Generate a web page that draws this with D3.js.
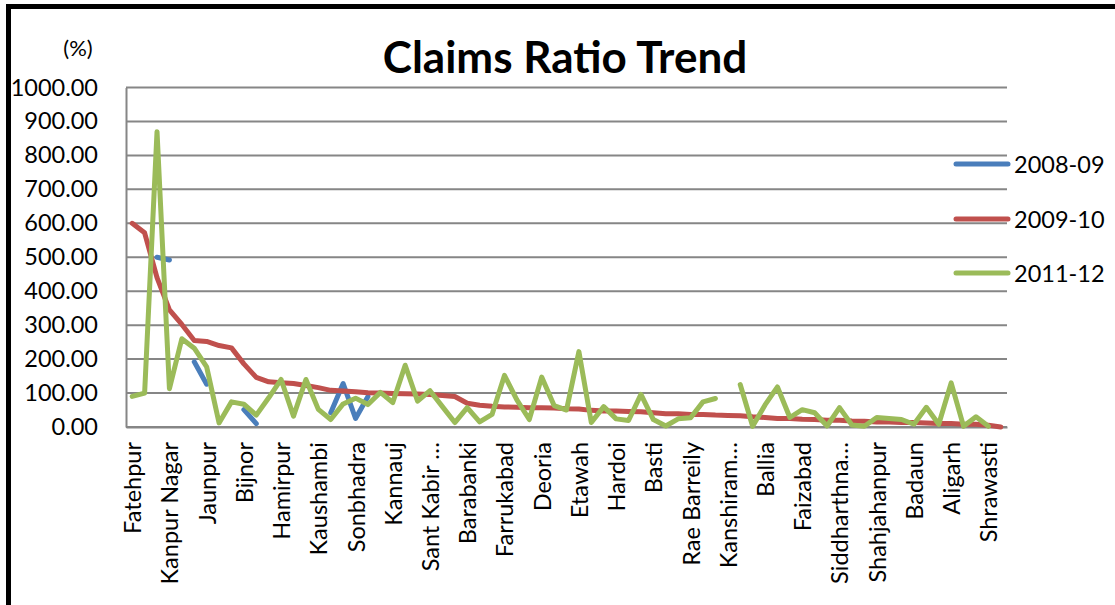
<!DOCTYPE html>
<html>
<head>
<meta charset="utf-8">
<script src="https://cdn.jsdelivr.net/npm/d3@7"></script>
<style>
  html, body { margin: 0; padding: 0; background: #fff; }
  svg { display: block; }
  text { font-family: Lato, "Open Sans", sans-serif; fill: #000; }
</style>
</head>
<body>
<svg id="chart" width="1115" height="605"></svg>
<script>
// ---- data ----
const categoryCount = 71;
// tick labels shown under every third category (as displayed in the chart)
const tickLabels = ["Fatehpur", "Kanpur Nagar", "Jaunpur", "Bijnor", "Hamirpur", "Kaushambi",
  "Sonbhadra", "Kannauj", "Sant Kabir …", "Barabanki", "Farrukabad", "Deoria", "Etawah",
  "Hardoi", "Basti", "Rae Barreily", "Kanshiram…", "Ballia", "Faizabad", "Siddharthna…",
  "Shahjahanpur", "Badaun", "Aligarh", "Shrawasti"];
// categories: district names (only every third one is legible in the chart)
const categories = d3.range(categoryCount).map(i => (i % 3 === 0 ? tickLabels[i / 3] : ""));

const seriesNames = ["2008-09", "2009-10", "2011-12"];
const seriesColors = ["#4A7EBB", "#C0504D", "#9BBB59"];

const values2008 = [null, null, 500, 492, null, 192, 126, null, null, 51,
  10, null, null, null, null, null, 42, 128, 25, 90,
  null, null, null, null, null, null, null, null, null, null,
  null, null, null, null, null, null, null, null, null, null,
  null, null, null, null, null, null, null, null, null, null,
  null, null, null, null, null, null, null, null, null, null,
  null, null, null, null, null, null, null, null, null, null,
  null];
const values2009 = [600, 572, 440, 345, 302, 255, 252, 240, 233, 186,
  146, 133, 130, 128, 122, 116, 108, 106, 104, 101,
  100, 99, 98, 97, 96, 93, 90, 70, 64, 61,
  59, 58, 57, 57, 56, 54, 53, 49, 47, 47,
  46, 45, 42, 39, 39, 37, 37, 35, 34, 33,
  30, 28, 25, 25, 23, 22, 20, 20, 18, 17,
  15, 15, 13, 13, 12, 10, 10, 8, 8, 5,
  0];
const values2011 = [90, 100, 870, 113, 260, 232, 177, 12, 74, 67,
  35, 86, 140, 32, 140, 52, 22, 68, 85, 66,
  102, 72, 182, 76, 107, 60, 13, 57, 15, 37,
  152, 80, 22, 147, 63, 50, 222, 13, 60, 24,
  19, 96, 22, 3, 24, 27, 74, 84, null, 125,
  2, 65, 118, 28, 51, 42, 3, 57, 6, 2,
  28, 25, 22, 8, 58, 8, 130, 2, 30, 2,
  null];
const yTicks = [0, 100, 200, 300, 400, 500, 600, 700, 800, 900, 1000];

const allSeries = [values2008, values2009, values2011];

// ---- layout ----
const svg = d3.select("#chart");
const W = 1115, H = 605;
const plot = { left: 126, right: 1007, top: 87.5, bottom: 427 };
const fontSize = 23.5;

svg.append("rect").attr("width", W).attr("height", H).attr("fill", "#fff");

// frame
svg.append("path")
  .attr("d", `M8.5,${H} L8.5,6.5 L${W},6.5`)
  .attr("fill", "none").attr("stroke", "#000").attr("stroke-width", 5)
  .attr("stroke-linejoin", "miter");

const x = d3.scaleBand().domain(d3.range(categoryCount)).range([plot.left, plot.right]).padding(0);
const cx = i => x(i) + x.bandwidth() / 2;
const y = d3.scaleLinear().domain([0, 1000]).range([plot.bottom, plot.top]);

// gridlines
svg.append("g")
  .selectAll("line").data(yTicks).join("line")
  .attr("x1", plot.left).attr("x2", plot.right)
  .attr("y1", d => y(d)).attr("y2", d => y(d))
  .attr("stroke", "#868686").attr("stroke-width", 2);

// y axis
const yAxis = svg.append("g").attr("transform", `translate(${plot.left},0)`)
  .call(d3.axisLeft(y).tickValues(yTicks).tickFormat(d3.format(".2f")).tickSize(0).tickPadding(28));
yAxis.select(".domain").attr("stroke", "#868686").attr("stroke-width", 2);
yAxis.selectAll("text").style("font-size", fontSize + "px").style("font-family", "Lato").attr("fill", "#000");

// x axis
const xAxis = svg.append("g").attr("transform", `translate(0,${plot.bottom})`)
  .call(d3.axisBottom(x).tickValues(d3.range(0, categoryCount, 3)).tickFormat(i => categories[i]).tickSize(0));
xAxis.select(".domain").attr("stroke", "#868686").attr("stroke-width", 2);
xAxis.selectAll("text")
  .style("font-size", fontSize + "px").style("font-family", "Lato").attr("fill", "#000")
  .attr("text-anchor", "end")
  .attr("dy", null)
  .attr("dominant-baseline", "central")
  .attr("transform", "translate(0,15) rotate(-90)")
  .attr("x", 0).attr("y", 0);

// lines
const line = d3.line()
  .defined(d => d.v != null)
  .x(d => cx(d.i))
  .y(d => y(d.v));

allSeries.forEach((vals, k) => {
  svg.append("path")
    .datum(vals.map((v, i) => ({ i, v })))
    .attr("d", line)
    .attr("fill", "none")
    .attr("stroke", seriesColors[k])
    .attr("stroke-width", 5)
    .attr("stroke-linejoin", "round")
    .attr("stroke-linecap", "round");
});

// title and unit
svg.append("text").attr("x", 565).attr("y", 73).attr("text-anchor", "middle")
  .style("font-size", "44px").style("font-weight", "bold").text("Claims Ratio Trend");
svg.append("text").attr("x", 78).attr("y", 47).attr("text-anchor", "middle")
  .attr("dominant-baseline", "central")
  .style("font-size", "22px").text("(%)");

// legend
const legendY = [164, 219, 273];
const lg = svg.append("g");
seriesNames.forEach((name, k) => {
  lg.append("line").attr("x1", 956).attr("x2", 1008).attr("y1", legendY[k]).attr("y2", legendY[k])
    .attr("stroke", seriesColors[k]).attr("stroke-width", 5).attr("stroke-linecap", "round");
  lg.append("text").attr("x", 1014).attr("y", legendY[k]).attr("dominant-baseline", "central")
    .style("font-size", fontSize + "px").text(name);
});
</script>
</body>
</html>
